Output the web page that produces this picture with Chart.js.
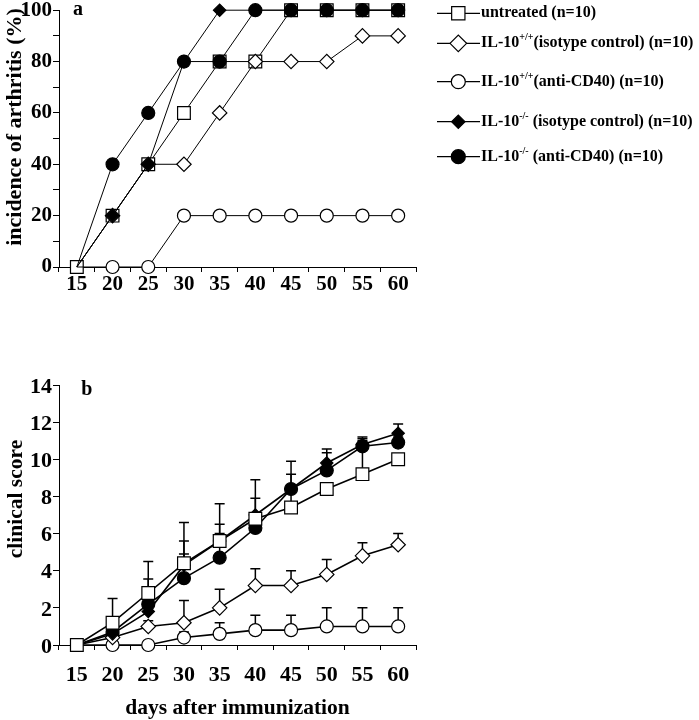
<!DOCTYPE html>
<html>
<head>
<meta charset="utf-8">
<title>Incidence of arthritis and clinical score</title>
<script src="https://cdn.jsdelivr.net/npm/chart.js@4.4.1/dist/chart.umd.min.js"></script>
<style>
  html, body { margin: 0; padding: 0; background: #fff; }
  #page { position: relative; width: 699px; height: 720px; }
  #incidenceChart { position: absolute; left: 0; top: 0; }
  #scoreChart { position: absolute; left: 0; top: 300px; }
</style>
</head>
<body>
<div id="page">
  <canvas id="incidenceChart" width="699" height="300"></canvas>
  <canvas id="scoreChart" width="699" height="420"></canvas>
</div>
<script>
// days after immunization
const days = ['15', '20', '25', '30', '35', '40', '45', '50', '55', '60'];

// legend labels, ^{..} = superscript
const seriesLabels = [
    'untreated (n=10)',
    'IL-10^{+/+}(isotype control) (n=10)',
    'IL-10^{+/+}(anti-CD40) (n=10)',
    'IL-10^{-/-} (isotype control) (n=10)',
    'IL-10^{-/-} (anti-CD40) (n=10)'
];

// a: incidence of arthritis (%)
const incUntreated   = [0, 20, 40, 60, 80, 80, 100, 100, 100, 100];
const incWtIsotype   = [0, 20, 40, 40, 60, 80, 80, 80, 90, 90];
const incWtAntiCD40  = [0, 0, 0, 20, 20, 20, 20, 20, 20, 20];
const incKoIsotype   = [0, 20, 40, 80, 100, 100, 100, 100, 100, 100];
const incKoAntiCD40  = [0, 40, 60, 80, 80, 100, 100, 100, 100, 100];

// b: clinical score, mean and upper error
const scoreUntreated  = [0, 1.2, 2.8, 4.4, 5.6, 6.8, 7.4, 8.4, 9.2, 10.0];
const errUntreated    = [0, 1.3, 1.7, 2.2, 2.0, 2.1, 2.5, 0.3, 2.0, 0.3];
const scoreWtIsotype  = [0, 0.4, 1.0, 1.2, 2.0, 3.2, 3.2, 3.8, 4.8, 5.4];
const errWtIsotype    = [0, 0.2, 0.3, 1.2, 1.0, 0.9, 0.8, 0.8, 0.7, 0.6];
const scoreWtAntiCD40 = [0, 0, 0, 0.4, 0.6, 0.8, 0.8, 1.0, 1.0, 1.0];
const errWtAntiCD40   = [0, 0, 0, 0.3, 0.6, 0.8, 0.8, 1.0, 1.0, 1.0];
const scoreKoIsotype  = [0, 0.6, 1.8, 4.3, 5.6, 7.0, 8.4, 9.8, 10.8, 11.4];
const errKoIsotype    = [0, 0.3, 0.3, 1.3, 0.9, 0.9, 0.2, 0.75, 0.3, 0.5];
const scoreKoAntiCD40 = [0, 0.7, 2.2, 3.6, 4.7, 6.3, 8.4, 9.4, 10.7, 10.9];
const errKoAntiCD40   = [0, 0.3, 1.35, 1.3, 1.3, 0.3, 0.8, 0.95, 0.3, 0.3];

const FONT = "'Liberation Serif', 'Times New Roman', serif";
Chart.defaults.font.family = FONT;
Chart.defaults.font.weight = 'bold';
Chart.defaults.color = '#000';

// marker look per group (same order as labels)
const markers = [
    { pointStyle: 'rect',    fill: '#fff', radius: 9,   legendRadius: 9.4 },
    { pointStyle: 'rectRot', fill: '#fff', radius: 7.2, legendRadius: 8.3 },
    { pointStyle: 'circle',  fill: '#fff', radius: 6.5, legendRadius: 7 },
    { pointStyle: 'rectRot', fill: '#000', radius: 6.2, legendRadius: 6.7 },
    { pointStyle: 'circle',  fill: '#000', radius: 6.5, legendRadius: 7 }
];

function plainLabel(text) {
    return text.replace(/\^\{([^}]*)\}/g, '$1');
}

function buildDatasets(series, errors, lineWidth, orders) {
    return series.map((data, i) => {
        const m = markers[i];
        return {
            label: plainLabel(seriesLabels[i]),
            richLabel: seriesLabels[i],
            data: data,
            errors: errors ? errors[i] : null,
            borderColor: '#000',
            borderWidth: lineWidth,
            backgroundColor: m.fill,
            pointStyle: m.pointStyle,
            pointBackgroundColor: m.fill,
            pointBorderColor: '#000',
            pointBorderWidth: 1.2,
            // day 15 baseline marker is only shown once (untreated)
            pointRadius: ctx => (ctx.dataIndex === 0 && i !== 0) ? 0 : m.radius,
            legendRadius: m.legendRadius,
            tension: 0,
            clip: false,
            order: orders[i]
        };
    });
}

// upper error bars drawn through the y scale
const errorBars = {
    id: 'errorBars',
    beforeDatasetsDraw(chart) {
        const { ctx, scales: { y } } = chart;
        ctx.save();
        ctx.strokeStyle = '#000';
        ctx.lineWidth = 1.5;
        chart.data.datasets.forEach((ds, i) => {
            if (!ds.errors) return;
            chart.getDatasetMeta(i).data.forEach((pt, j) => {
                const err = ds.errors[j];
                if (!err) return;
                const yTop = y.getPixelForValue(ds.data[j] + err);
                ctx.beginPath();
                ctx.moveTo(pt.x, pt.y);
                ctx.lineTo(pt.x, yTop);
                ctx.moveTo(pt.x - 5, yTop);
                ctx.lineTo(pt.x + 5, yTop);
                ctx.stroke();
            });
        });
        ctx.restore();
    }
};

function drawRichText(ctx, text, x, y, size) {
    text.split(/(\^\{[^}]*\})/).forEach(part => {
        if (!part) return;
        if (part.startsWith('^{')) {
            const s = part.slice(2, -1);
            ctx.font = `bold ${Math.round(size * 0.62)}px ${FONT}`;
            ctx.fillText(s, x, y - size * 0.35);
            x += ctx.measureText(s).width;
        } else {
            ctx.font = `bold ${size}px ${FONT}`;
            ctx.fillText(part, x, y);
            x += ctx.measureText(part).width;
        }
    });
}

// legend on the right of panel a
const legendRows = [13.3, 43.3, 81.7, 121.7, 156.7];
const sideLegend = {
    id: 'sideLegend',
    afterDraw(chart) {
        const ctx = chart.ctx;
        ctx.save();
        chart.data.datasets.forEach((ds, i) => {
            const y = legendRows[i];
            ctx.strokeStyle = '#000';
            ctx.lineWidth = 1.2;
            ctx.beginPath();
            ctx.moveTo(437, y);
            ctx.lineTo(480, y);
            ctx.stroke();
            ctx.fillStyle = ds.pointBackgroundColor;
            Chart.helpers.drawPoint(ctx, {
                pointStyle: ds.pointStyle,
                radius: ds.legendRadius,
                rotation: 0,
                borderWidth: 1.2
            }, 458.3, y);
            ctx.fillStyle = '#000';
            ctx.textAlign = 'left';
            ctx.textBaseline = 'middle';
            drawRichText(ctx, ds.richLabel, 481, y, 16);
        });
        ctx.restore();
    }
};

// rotated y title and panel letter
const panelText = {
    id: 'panelText',
    afterDraw(chart, args, opts) {
        const ctx = chart.ctx;
        ctx.save();
        ctx.fillStyle = '#000';
        ctx.font = `bold 20px ${FONT}`;
        ctx.textAlign = 'center';
        ctx.textBaseline = 'alphabetic';
        ctx.fillText(opts.letter, opts.letterX, opts.letterY);
        ctx.translate(opts.titleX, opts.titleY);
        ctx.rotate(-Math.PI / 2);
        ctx.font = `bold ${opts.titleSize}px ${FONT}`;
        ctx.fillText(opts.title, 0, 0);
        ctx.restore();
    }
};

function axisGrid() {
    return { offset: false, drawOnChartArea: false, drawTicks: true, tickLength: 5, color: '#000', lineWidth: 1 };
}

function baseOptions(padding, xHeight, yMax, yStep, yLabel, tickSize, xPad, yOffset) {
    return {
        responsive: false,
        animation: false,
        events: [],
        layout: { padding: padding },
        plugins: { legend: { display: false }, tooltip: { enabled: false } },
        scales: {
            x: {
                type: 'category',
                offset: true,
                grid: Object.assign(axisGrid(), { offset: true }),
                border: { display: true, color: '#000', width: 1 },
                ticks: { font: { size: tickSize, lineHeight: 1 }, padding: xPad, autoSkip: false, maxRotation: 0 },
                afterFit: s => { s.height = xHeight; s.paddingLeft = 0; s.paddingRight = 0; }
            },
            y: {
                min: 0,
                max: yMax,
                grid: Object.assign(axisGrid(), { tickLength: 6 }),
                border: { display: true, color: '#000', width: 1 },
                ticks: {
                    stepSize: yStep,
                    autoSkip: false,
                    padding: 1,
                    labelOffset: yOffset,
                    font: { size: tickSize },
                    callback: yLabel
                },
                afterFit: s => { s.width = 59; s.paddingTop = 0; s.paddingBottom = 0; }
            }
        }
    };
}

const incOptions = baseOptions({ left: 0, top: 8, right: 283, bottom: 0 }, 33, 100, 10,
    v => (v % 20 === 0 ? v : ''), 21, 2.5, 0);
incOptions.plugins.panelText = {
    letter: 'a', letterX: 78, letterY: 15,
    title: 'incidence of arthritis (%)', titleX: 20.5, titleY: 127, titleSize: 22
};

new Chart(document.getElementById('incidenceChart'), {
    type: 'line',
    data: {
        labels: days,
        datasets: buildDatasets(
            [incUntreated, incWtIsotype, incWtAntiCD40, incKoIsotype, incKoAntiCD40],
            null, 1, [5, 3, 4, 2, 1])
    },
    options: incOptions,
    plugins: [sideLegend, panelText]
});

const scoreOptions = baseOptions({ left: 0, top: 85, right: 283, bottom: 0 }, 75, 14, 2,
    v => v, 22, 14.5, 2);
scoreOptions.scales.x.title = {
    display: true,
    text: 'days after immunization',
    font: { size: 21.5, lineHeight: 1.1 },
    padding: { top: 0, bottom: 0 }
};
scoreOptions.plugins.panelText = {
    letter: 'b', letterX: 86.7, letterY: 95,
    title: 'clinical score', titleX: 21.5, titleY: 199, titleSize: 21.5
};

new Chart(document.getElementById('scoreChart'), {
    type: 'line',
    data: {
        labels: days,
        datasets: buildDatasets(
            [scoreUntreated, scoreWtIsotype, scoreWtAntiCD40, scoreKoIsotype, scoreKoAntiCD40],
            [errUntreated, errWtIsotype, errWtAntiCD40, errKoIsotype, errKoAntiCD40],
            1.6, [0, 2, 3, 1, 4])
    },
    options: scoreOptions,
    plugins: [errorBars, panelText]
});
</script>
</body>
</html>
